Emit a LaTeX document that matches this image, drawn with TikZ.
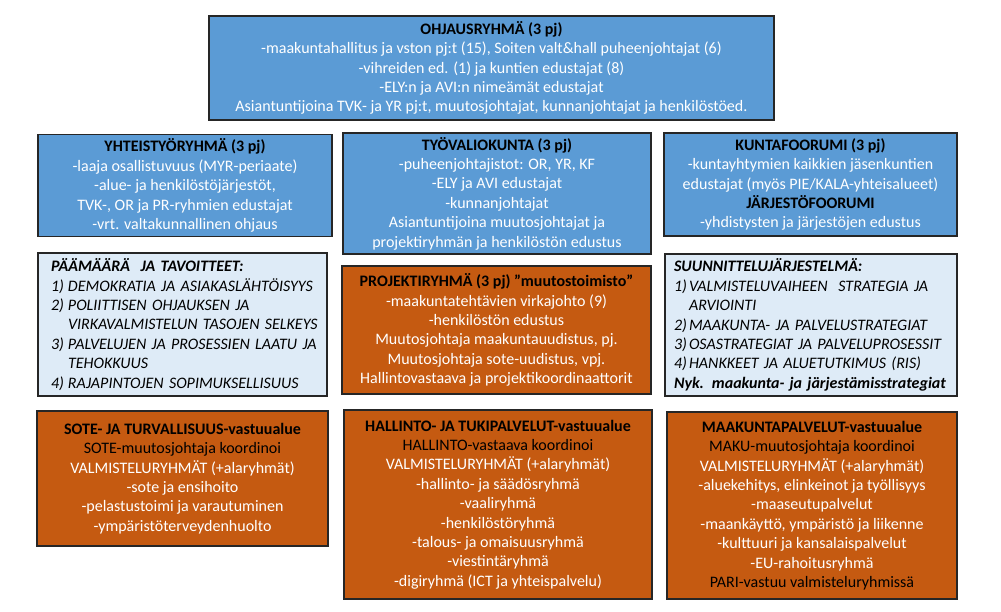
\documentclass[tikz,border=0pt]{standalone}
\usepackage{fontspec}
\setmainfont{Carlito}
\definecolor{obBlue}{HTML}{5B9BD5}
\definecolor{obLight}{HTML}{DEEBF7}
\definecolor{obOrange}{HTML}{C55A11}
\definecolor{obLine}{HTML}{262626}
\newcommand{\hd}[1]{{\color{black}\bfseries #1}}
\newcommand{\bk}[1]{{\color{black}#1}}
\newcommand{\numA}[2]{\mbox{\makebox[17pt][l]{#1}#2}}
\newcommand{\numB}[2]{\mbox{\makebox[15pt][l]{#1}#2}}
\begin{document}
\begin{tikzpicture}[x=1pt,y=-1pt,
  box/.style={draw=obLine, line width=1.2pt, inner sep=0pt, align=center,
    font=\fontsize{16}{19.4}\selectfont, anchor=center},
  bluebox/.style={box, fill=obBlue, text=white},
  orangebox/.style={box, fill=obOrange, text=white},
  lightbox/.style={box, fill=obLight, text=black, align=left,
    font=\fontsize{16}{19.4}\selectfont\itshape}]
\fill[white] (0,0) rectangle (1001,611);
\useasboundingbox (0,0) rectangle (1001,611);

\node[bluebox, minimum width=565pt, minimum height=104pt] (ohj) at (491.5,68)
  {\hd{OHJAUSRYHMÄ (3 pj)}\\
   -maakuntahallitus ja vston pj:t (15), Soiten valt\&hall puheenjohtajat (6)\\
   -vihreiden ed. (1) ja kuntien edustajat (8)\\
   -ELY:n ja AVI:n nimeämät edustajat\\
   Asiantuntijoina TVK- ja YR pj:t, muutosjohtajat, kunnanjohtajat ja henkilöstöed.};

\node[bluebox, minimum width=294pt, minimum height=102pt] (yht) at (185,185.5)
  {\hd{YHTEISTYÖRYHMÄ (3 pj)}\\
   -laaja osallistuvuus (MYR-periaate)\\
   -alue- ja henkilöstöjärjestöt,\\
   TVK-, OR ja PR-ryhmien edustajat\\
   -vrt. valtakunnallinen ohjaus};

\node[bluebox, minimum width=308pt, minimum height=121pt] (tyo) at (497,193.5)
  {\hd{TYÖVALIOKUNTA (3 pj)}\\
   -puheenjohtajistot: OR, YR, KF\\
   -ELY ja AVI edustajat\\
   -kunnanjohtajat\\
   Asiantuntijoina muutosjohtajat ja\\
   projektiryhmän ja henkilöstön edustus};

\node[bluebox, minimum width=293pt, minimum height=103pt] (kun) at (810.5,184.5)
  {\hd{KUNTAFOORUMI (3 pj)}\\
   -kuntayhtymien kaikkien jäsenkuntien\\
   edustajat (myös PIE/KALA-yhteisalueet)\\
   \hd{JÄRJESTÖFOORUMI}\\
   -yhdistysten ja järjestöjen edustus};

\node[lightbox, minimum width=289pt, minimum height=143pt, text width=263pt,
      inner xsep=13pt] (paa) at (182.5,324.5)
  {\mbox{\bfseries PÄÄMÄÄRÄ\ \ JA TAVOITTEET:}\\
   \numA{1)}{DEMOKRATIA JA ASIAKASLÄHTÖISYYS}\\
   \numA{2)}{POLIITTISEN OHJAUKSEN JA}\\
   \numA{}{VIRKAVALMISTELUN TASOJEN SELKEYS}\\
   \numA{3)}{PALVELUJEN JA PROSESSIEN LAATU JA}\\
   \numA{}{TEHOKKUUS}\\
   \numA{4)}{RAJAPINTOJEN SOPIMUKSELLISUUS}};

\node[orangebox, minimum width=309pt, minimum height=128pt] (pro) at (496.5,330)
  {\hd{PROJEKTIRYHMÄ (3 pj) ”muutostoimisto”}\\
   -maakuntatehtävien virkajohto (9)\\
   -henkilöstön edustus\\
   Muutosjohtaja maakuntauudistus, pj.\\
   Muutosjohtaja sote-uudistus, vpj.\\
   Hallintovastaava ja projektikoordinaattorit};

\node[lightbox, minimum width=292pt, minimum height=142pt, text width=274pt,
      inner xsep=9pt] (suu) at (811,325)
  {\mbox{\bfseries SUUNNITTELUJÄRJESTELMÄ:}\\
   \numB{1)}{VALMISTELUVAIHEEN\ \ STRATEGIA JA}\\
   \numB{}{ARVIOINTI}\\
   \numB{2)}{MAAKUNTA- JA PALVELUSTRATEGIAT}\\
   \numB{3)}{OSASTRATEGIAT JA PALVELUPROSESSIT}\\
   \numB{4)}{HANKKEET JA ALUETUTKIMUS (RIS)}\\
   \mbox{\bfseries Nyk. maakunta-\hspace{5pt}ja järjestämisstrategiat}};

\node[orangebox, minimum width=291pt, minimum height=135pt] (sot) at (182.5,478.5)
  {\hd{SOTE- JA TURVALLISUUS-vastuualue}\\
   \bk{SOTE-muutosjohtaja koordinoi}\\
   VALMISTELURYHMÄT (+alaryhmät)\\
   -sote ja ensihoito\\
   -pelastustoimi ja varautuminen\\
   -ympäristöterveydenhuolto};

\node[orangebox, minimum width=308pt, minimum height=189pt] (hal) at (498,504.5)
  {\hd{HALLINTO- JA TUKIPALVELUT-vastuualue}\\
   \bk{HALLINTO-vastaava koordinoi}\\
   VALMISTELURYHMÄT (+alaryhmät)\\
   -hallinto- ja säädösryhmä\\
   -vaaliryhmä\\
   -henkilöstöryhmä\\
   -talous- ja omaisuusryhmä\\
   -viestintäryhmä\\
   -digiryhmä (ICT ja yhteispalvelu)};

\node[orangebox, minimum width=290pt, minimum height=187pt] (maa) at (812,505.5)
  {\hd{MAAKUNTAPALVELUT-vastuualue}\\
   \bk{MAKU-muutosjohtaja koordinoi}\\
   VALMISTELURYHMÄT (+alaryhmät)\\
   -aluekehitys, elinkeinot ja työllisyys\\
   -maaseutupalvelut\\
   -maankäyttö, ympäristö ja liikenne\\
   -kulttuuri ja kansalaispalvelut\\
   -EU-rahoitusryhmä\\
   \bk{PARI-vastuu valmisteluryhmissä}};
\end{tikzpicture}
\end{document}
